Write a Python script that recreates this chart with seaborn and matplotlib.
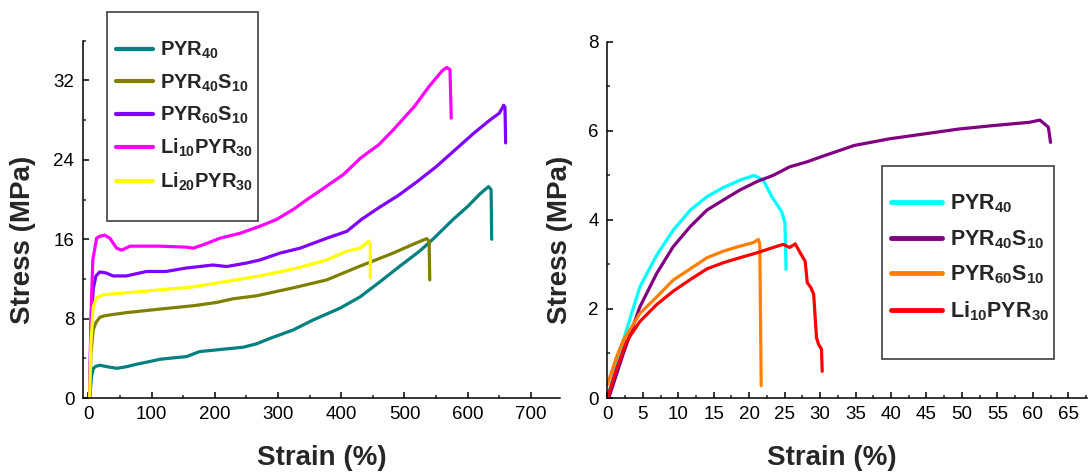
import numpy as np
import pandas as pd
import matplotlib
matplotlib.use('Agg')
import matplotlib.pyplot as plt
from matplotlib.patches import Rectangle
from matplotlib.ticker import MultipleLocator
import seaborn as sns

# left panel: strain (%) / stress (MPa)
pyr40_x = [2, 5, 8, 12, 18, 30, 45, 60, 76, 95, 113, 135, 155, 176, 203, 245, 266, 287, 324, 356,
           398, 430, 461, 493, 524, 545, 577, 600, 620, 633, 637, 638]
pyr40_y = [0, 2.2, 3.0, 3.2, 3.3, 3.15, 2.99, 3.15, 3.4, 3.65, 3.9, 4.05, 4.17, 4.68, 4.85, 5.12,
           5.46, 6.0, 6.86, 7.88, 9.05, 10.2, 11.7, 13.3, 14.8, 16.0, 18.0, 19.3, 20.6, 21.3, 21.0, 16.0]
pyr40s10_x = [2, 4, 7.7, 12, 18, 25, 34, 60, 113, 166, 203, 229, 266, 324, 377, 430, 482, 514, 535, 539, 540]
pyr40s10_y = [0, 4.5, 6.87, 7.6, 8.13, 8.28, 8.37, 8.6, 8.96, 9.3, 9.63, 10.0, 10.3, 11.1, 11.9, 13.3,
              14.6, 15.5, 16.06, 15.8, 11.9]
pyr60s10_x = [2, 4, 7.7, 12, 18, 28, 39, 60, 92, 123, 155, 197, 219, 250, 271, 303, 335, 377, 409, 432,
              460, 490, 520, 550, 580, 610, 635, 650, 657, 659, 660]
pyr60s10_y = [0, 7, 11.0, 12.3, 12.7, 12.6, 12.3, 12.3, 12.75, 12.75, 13.1, 13.4, 13.25, 13.6, 13.9, 14.6,
              15.1, 16.1, 16.8, 18.0, 19.2, 20.4, 21.8, 23.3, 25.0, 26.7, 28.0, 28.7, 29.5, 29.3, 25.7]
li10_x = [2, 4, 7, 13, 18, 26, 34, 44.6, 52.5, 66, 113, 155, 166, 182, 208, 240, 271, 298, 324, 346,
          369, 403, 431, 459, 482, 516, 539, 560, 567, 572, 574]
li10_y = [0, 8, 13.9, 16.1, 16.3, 16.4, 16.1, 15.1, 14.9, 15.3, 15.3, 15.2, 15.1, 15.45, 16.1, 16.6,
          17.3, 18.0, 19.0, 20.0, 21.0, 22.5, 24.2, 25.5, 27.0, 29.4, 31.4, 33.0, 33.3, 33.1, 28.2]
li20_x = [2, 4, 7.7, 13, 23.5, 60, 113, 166, 219, 271, 324, 377, 409, 430, 443, 446, 446]
li20_y = [0, 5.5, 9.2, 10.1, 10.4, 10.6, 10.9, 11.2, 11.75, 12.3, 13.0, 13.9, 14.8, 15.1, 15.8, 15.5, 12.1]

# right panel
r_pyr40_x = [0, 2.26, 4.6, 6.97, 9.3, 11.7, 14.05, 16.4, 18.7, 20.7, 22.0, 23.2, 24.6, 25.05, 25.2]
r_pyr40_y = [0, 1.3, 2.5, 3.21, 3.77, 4.22, 4.52, 4.73, 4.89, 5.0, 4.89, 4.52, 4.18, 3.92, 2.89]
r_pyr40s10_x = [0.2, 2.26, 4.6, 6.97, 9.3, 11.7, 14.05, 16.4, 18.7, 21.1, 23.4, 25.7, 28.1, 30.4, 34.8,
                39.8, 44.7, 49.6, 54.6, 59.5, 61.0, 62.2, 62.5]
r_pyr40s10_y = [0, 1.0, 2.05, 2.8, 3.4, 3.85, 4.22, 4.45, 4.67, 4.86, 5.0, 5.19, 5.3, 5.43, 5.67,
                5.82, 5.93, 6.04, 6.12, 6.19, 6.24, 6.08, 5.74]
r_pyr60s10_x = [0, 1.3, 2.26, 4.6, 6.97, 9.3, 11.7, 14.05, 16.4, 18.7, 20.6, 21.3, 21.5, 21.7]
r_pyr60s10_y = [0.3, 0.92, 1.3, 1.9, 2.27, 2.65, 2.9, 3.15, 3.3, 3.41, 3.49, 3.56, 3.45, 0.28]
r_li10_x = [0, 1.3, 2.7, 4.6, 6.97, 9.3, 11.7, 14.05, 16.4, 18.7, 21.1, 23.4, 24.8, 25.7, 26.5, 27.2,
            27.9, 28.2, 28.7, 29.1, 29.5, 29.8, 30.2, 30.3]
r_li10_y = [0, 0.66, 1.27, 1.72, 2.1, 2.4, 2.66, 2.9, 3.04, 3.15, 3.26, 3.38, 3.45, 3.38, 3.46, 3.26,
            3.07, 2.59, 2.48, 2.33, 1.35, 1.2, 1.1, 0.6]

left_labels = ['PYR$_{40}$', 'PYR$_{40}$S$_{10}$', 'PYR$_{60}$S$_{10}$', 'Li$_{10}$PYR$_{30}$', 'Li$_{20}$PYR$_{30}$']
left_colors = ['#008080', '#808000', '#8000FF', '#FF00FF', '#FFFF00']
right_labels = left_labels[:4]
right_colors = ['#00FFFF', '#800080', '#FF8000', '#FF0000']

sns.set_style('ticks')
plt.rcParams['font.family'] = ['Liberation Sans', 'DejaVu Sans']
plt.rcParams['mathtext.fontset'] = 'custom'
plt.rcParams['mathtext.rm'] = 'Liberation Sans'
plt.rcParams['mathtext.bf'] = 'Liberation Sans:bold'
plt.rcParams['mathtext.default'] = 'bf'

fig = plt.figure(figsize=(10.88, 4.74), dpi=100)
ax1 = fig.add_axes([0.076, 0.1603, 0.4387, 0.7538])
ax2 = fig.add_axes([0.5582, 0.1603, 0.4406, 0.7517])

left_series = [(pyr40_x, pyr40_y), (pyr40s10_x, pyr40s10_y), (pyr60s10_x, pyr60s10_y),
               (li10_x, li10_y), (li20_x, li20_y)]
for (x, y), lab, c in zip(left_series, left_labels, left_colors):
    sns.lineplot(x=x, y=y, sort=False, estimator=None, color=c, lw=2.3, label=lab, ax=ax1)

right_series = [(r_pyr40_x, r_pyr40_y), (r_pyr40s10_x, r_pyr40s10_y), (r_pyr60s10_x, r_pyr60s10_y),
                (r_li10_x, r_li10_y)]
for (x, y), lab, c in zip(right_series, right_labels, right_colors):
    sns.lineplot(x=x, y=y, sort=False, estimator=None, color=c, lw=2.3, label=lab, ax=ax2)

ax1.set_xlim(-9, 746)
ax1.set_ylim(0, 36)
ax1.xaxis.set_major_locator(MultipleLocator(100))
ax1.xaxis.set_minor_locator(MultipleLocator(50))
ax1.yaxis.set_major_locator(MultipleLocator(8))
ax1.yaxis.set_minor_locator(MultipleLocator(4))

ax2.set_xlim(0, 67.6)
ax2.set_ylim(0, 8)
ax2.xaxis.set_major_locator(MultipleLocator(5))
ax2.xaxis.set_minor_locator(MultipleLocator(2.5))
ax2.yaxis.set_major_locator(MultipleLocator(2))
ax2.yaxis.set_minor_locator(MultipleLocator(1))

for ax in (ax1, ax2):
    sns.despine(ax=ax)
    for s in ('left', 'bottom'):
        ax.spines[s].set_linewidth(1.1)
        ax.spines[s].set_color('black')
    ax.tick_params(which='major', direction='in', length=4.5, width=1.1, labelsize=13.5, pad=6, colors='black')
    ax.tick_params(which='minor', direction='in', length=2.5, width=1.1)
    ax.set_xlabel('Strain (%)', fontsize=20, fontweight='bold')
    ax.set_ylabel('Stress (MPa)', fontsize=20, fontweight='bold')
    ax.set_facecolor('white')
    ax.grid(False)

ax1.xaxis.set_label_coords(0.5, -0.1315)
ax1.yaxis.set_label_coords(-0.098, 0.442)
ax2.xaxis.set_label_coords(0.469, -0.1315)
ax2.yaxis.set_label_coords(-0.0716, 0.443)

W, H = 1088, 474
# legends with plain rectangular frames
leg1 = ax1.legend(loc='upper left', bbox_to_anchor=(106 / W, 1 - 30 / H), bbox_transform=fig.transFigure,
                  frameon=False, borderpad=0, handlelength=1.85, handletextpad=0.35, labelspacing=0.55,
                  prop={'weight': 'bold', 'size': 14.5})
for h in leg1.get_lines():
    h.set_linewidth(3)
fig.add_artist(Rectangle((107 / W, 1 - 221 / H), 151 / W, 209 / H, transform=fig.transFigure,
                         fill=False, ec='#404040', lw=1.2))

leg2 = ax2.legend(loc='upper left', bbox_to_anchor=(880 / W, 1 - 182 / H), bbox_transform=fig.transFigure,
                  frameon=False, borderpad=0, handlelength=2.4, handletextpad=0.35, labelspacing=0.6,
                  prop={'weight': 'bold', 'size': 15.5})
for h in leg2.get_lines():
    h.set_linewidth(3.5)
fig.add_artist(Rectangle((882 / W, 1 - 359 / H), 172 / W, 193 / H, transform=fig.transFigure,
                         fill=False, ec='#404040', lw=1.2))

fig.savefig('out.png', dpi=100, facecolor='white')
